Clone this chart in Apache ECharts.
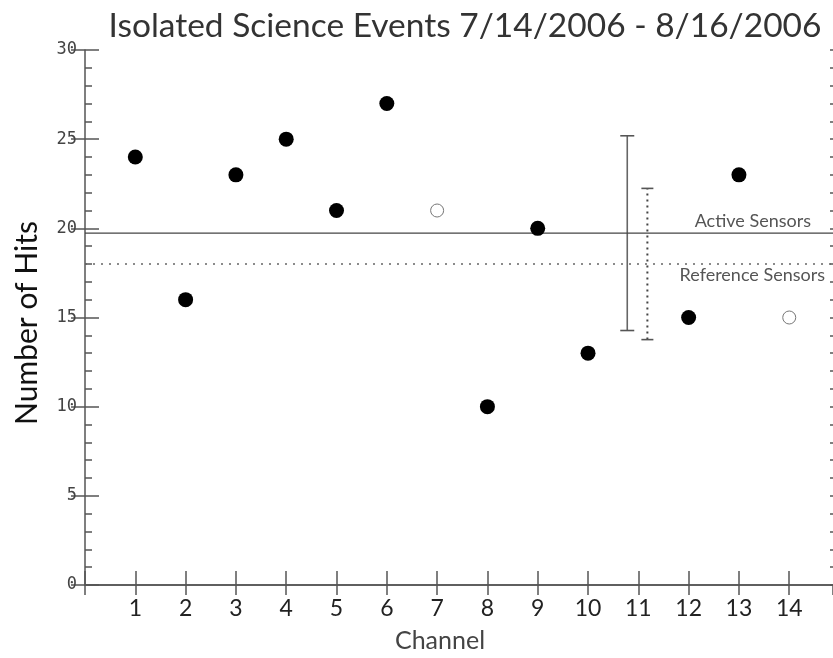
<!DOCTYPE html>
<html><head><meta charset="utf-8">
<script src="https://cdn.jsdelivr.net/npm/echarts@6/dist/echarts.min.js"></script>
<style>html,body{margin:0;padding:0;background:#fff;overflow:hidden}#c{width:833px;height:658px}</style>
</head><body><div id="c"></div>
<script>
// ---- data ----
const activeChannels = [1, 2, 3, 4, 5, 6, 8, 9, 10, 12, 13];
const activeHits = [24, 16, 23, 25, 21, 27, 10, 20, 13, 15, 23];
const refChannels = [7, 14];
const refHits = [21, 15];
const activeMean = 19.73;
const refMean = 18.0;
const activeErr = [10.78, 14.27, 25.19];   // [x, low, high]
const refErr = [11.18, 13.76, 22.24];
const xTickLabels = ['1','2','3','4','5','6','7','8','9','10','11','12','13','14'];
const titleText = 'Isolated Science Events 7/14/2006 - 8/16/2006';

const chart = echarts.init(document.getElementById('c'), null, {renderer: 'canvas'});
const humanist = 'Lato';
const axisColor = '#555';
const xMax = 14.87;

function errRender(dashed, cap) {
  return function (params, api) {
    const x = api.value(0);
    const lo = api.coord([x, api.value(1)]);
    const hi = api.coord([x, api.value(2)]);
    const st = {stroke: dashed ? '#444' : '#666', lineWidth: dashed ? 2 : 1.6, lineDash: dashed ? [2, 4] : null};
    const cs = {stroke: '#555', lineWidth: 1.6};
    return {type: 'group', children: [
      {type: 'line', shape: {x1: lo[0], y1: lo[1], x2: hi[0], y2: hi[1]}, style: st},
      {type: 'line', shape: {x1: hi[0] - cap, y1: hi[1], x2: hi[0] + cap, y2: hi[1]}, style: cs},
      {type: 'line', shape: {x1: lo[0] - cap, y1: lo[1], x2: lo[0] + cap, y2: lo[1]}, style: cs}
    ]};
  };
}

function yAx(pos, interval, tickLen, showLine, showLabel, offset) {
  return {
    type: 'value', min: 0, max: 30, interval: interval, position: pos, offset: offset || 0,
    axisLine: {show: showLine, lineStyle: {color: axisColor, width: 1.5}},
    axisTick: {show: true, inside: true, length: tickLen, lineStyle: {color: axisColor, width: 1.5}},
    splitLine: {show: false},
    axisLabel: showLabel ? {margin: 8, color: '#444', fontFamily: 'DejaVu Sans Mono', fontSize: 17} : {show: false}
  };
}

chart.setOption({
  animation: false,
  backgroundColor: '#fff',
  grid: {left: 85, top: 50, right: 0, height: 535},
  xAxis: [{
    type: 'value', min: 0, max: xMax, interval: 1, position: 'bottom',
    axisLine: {show: true, lineStyle: {color: axisColor, width: 1.5}},
    axisTick: {show: true, inside: true, length: 14, lineStyle: {color: axisColor, width: 1.5}},
    splitLine: {show: false},
    axisLabel: {margin: 12, color: '#222', fontFamily: humanist, fontSize: 23,
      showMaxLabel: false,
      formatter: v => (v >= 1 && v <= 14 && v === Math.round(v)) ? xTickLabels[v - 1] : ''}
  }, {
    type: 'value', min: 0, max: xMax, interval: 1, position: 'top',
    axisLine: {show: true, lineStyle: {color: axisColor, width: 1.5}},
    axisTick: {show: true, inside: true, length: 10, lineStyle: {color: axisColor, width: 1.5}},
    splitLine: {show: false}, axisLabel: {show: false}
  }],
  yAxis: [
    yAx('left', 5, 14, true, true, 0),
    yAx('right', 5, 14, false, false, 4),
    yAx('left', 1, 7, false, false, 0),
    yAx('right', 1, 7, false, false, 4)
  ],
  series: [
    {type: 'line', xAxisIndex: 0, yAxisIndex: 0, symbol: 'none', silent: true,
     data: [[0, activeMean], [xMax, activeMean]], lineStyle: {color: '#444', width: 1.2}},
    {type: 'line', xAxisIndex: 0, yAxisIndex: 0, symbol: 'none', silent: true,
     data: [[0, refMean], [xMax, refMean]], lineStyle: {color: '#666', width: 1.5, type: [2, 6]}},
    {type: 'custom', renderItem: errRender(false, 7), data: [activeErr], encode: {x: 0, y: [1, 2]}, z: 3},
    {type: 'custom', renderItem: errRender(true, 6), data: [refErr], encode: {x: 0, y: [1, 2]}, z: 3},
    {type: 'scatter', symbolSize: 15, itemStyle: {color: '#000', opacity: 1}, z: 5,
     data: activeChannels.map((c, i) => [c, activeHits[i]])},
    {type: 'scatter', symbolSize: 13, itemStyle: {color: '#fff', borderColor: '#777', borderWidth: 1, opacity: 1}, z: 5,
     data: refChannels.map((c, i) => [c, refHits[i]])}
  ]
});

const pA = chart.convertToPixel({xAxisIndex: 0, yAxisIndex: 0}, [0, activeMean]);
const pR = chart.convertToPixel({xAxisIndex: 0, yAxisIndex: 0}, [0, refMean]);

chart.setOption({
  graphic: [
    {type: 'text', x: 465, y: 26, z: 10,
     style: {text: titleText, fontFamily: humanist, fontSize: 33.5, fill: '#333', align: 'center', verticalAlign: 'middle'}},
    {type: 'text', x: 811, y: pA[1] - 3, z: 10,
     style: {text: 'Active Sensors', fontFamily: humanist, fontSize: 18, fill: '#555', align: 'right', verticalAlign: 'bottom'}},
    {type: 'text', x: 825, y: pR[1] + 2, z: 10,
     style: {text: 'Reference Sensors', fontFamily: humanist, fontSize: 18, fill: '#555', align: 'right', verticalAlign: 'top'}},
    {type: 'text', x: 440, y: 641, z: 10,
     style: {text: 'Channel', fontFamily: humanist, fontSize: 25, fill: '#444', align: 'center', verticalAlign: 'middle'}},
    {type: 'text', x: 27, y: 323, rotation: Math.PI / 2, z: 10,
     style: {text: 'Number of Hits', fontFamily: humanist, fontSize: 30, fill: '#111', align: 'center', verticalAlign: 'middle'}}
  ]
});
</script></body></html>
